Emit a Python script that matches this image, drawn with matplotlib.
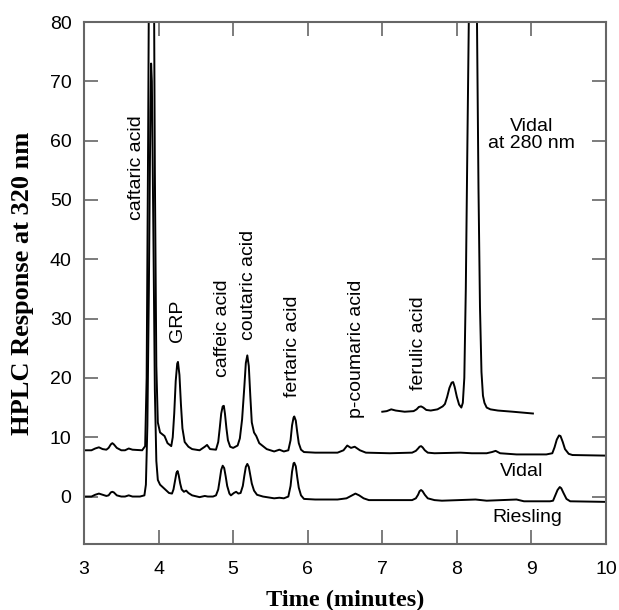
"""
HPLC chromatograms of Riesling and Vidal wines (320 nm),
with the Vidal trace at 280 nm shown as an inset segment.
"""
import matplotlib
matplotlib.use('Agg')
import matplotlib.pyplot as plt


###########  data  ###########

riesling_t = [3.00, 3.10, 3.15, 3.20, 3.25, 3.30, 3.33, 3.36, 3.38, 3.40, 3.44, 3.50,
              3.55, 3.60, 3.65, 3.75, 3.81, 3.83, 3.85, 3.87, 3.89, 3.90, 3.91, 3.93,
              3.95, 3.97, 3.99, 4.02, 4.08, 4.14, 4.18, 4.20, 4.22, 4.24, 4.255, 4.27,
              4.29, 4.31, 4.34, 4.37, 4.40, 4.45, 4.55, 4.62, 4.66, 4.73, 4.77, 4.80,
              4.82, 4.84, 4.86, 4.88, 4.90, 4.92, 4.95, 4.97, 5.01, 5.04, 5.07, 5.10,
              5.13, 5.15, 5.17, 5.19, 5.21, 5.23, 5.25, 5.28, 5.32, 5.40, 5.55, 5.62,
              5.68, 5.74, 5.77, 5.79, 5.81, 5.82, 5.84, 5.86, 5.88, 5.91, 5.95, 6.10,
              6.40, 6.52, 6.58, 6.64, 6.69, 6.75, 6.82, 7.10, 7.40, 7.45, 7.48, 7.50,
              7.52, 7.54, 7.57, 7.61, 7.70, 7.80, 8.25, 8.40, 8.80, 8.90, 9.25, 9.29,
              9.32, 9.35, 9.38, 9.40, 9.43, 9.47, 9.52, 10.0]
riesling_v = [0.0, 0.0, 0.3, 0.5, 0.3, 0.1, 0.2, 0.7, 0.8, 0.7, 0.2, 0.0,
              0.0, 0.2, 0.0, 0.0, 0.2, 2.0, 12.0, 35.0, 65.0, 73.0, 70.0, 45.0,
              18.0, 6.0, 2.8, 2.0, 1.3, 0.6, 0.5, 1.2, 2.6, 4.0, 4.3, 3.6,
              2.2, 1.2, 0.8, 1.0, 0.6, 0.2, -0.1, 0.1, 0.0, 0.0, 0.2, 1.2,
              2.8, 4.5, 5.2, 4.8, 3.4, 1.8, 0.5, 0.2, 0.6, 0.8, 0.5, 0.6,
              1.8, 3.5, 5.0, 5.5, 5.0, 3.6, 2.2, 1.0, 0.3, 0.0, -0.3, -0.2,
              -0.3, 0.0, 1.8, 4.2, 5.6, 5.7, 5.1, 3.2, 1.5, 0.2, -0.4, -0.5,
              -0.5, -0.3, 0.1, 0.5, 0.2, -0.3, -0.6, -0.6, -0.6, -0.3, 0.3, 0.9,
              1.1, 0.9, 0.3, -0.3, -0.6, -0.7, -0.5, -0.7, -0.5, -0.8, -0.8, -0.7,
              0.2, 1.1, 1.6, 1.4, 0.6, -0.4, -0.8, -0.9]

vidal_t = [3.00, 3.10, 3.15, 3.20, 3.25, 3.30, 3.33, 3.36, 3.38, 3.40, 3.44, 3.50,
           3.55, 3.60, 3.65, 3.78, 3.82, 3.84, 3.86, 3.88, 3.905, 3.93, 3.95, 3.97,
           3.99, 4.02, 4.08, 4.12, 4.17, 4.19, 4.21, 4.23, 4.25, 4.26, 4.28, 4.30,
           4.32, 4.35, 4.40, 4.45, 4.55, 4.62, 4.65, 4.69, 4.77, 4.80, 4.82, 4.84,
           4.86, 4.875, 4.89, 4.91, 4.93, 4.96, 5.00, 5.06, 5.09, 5.12, 5.15, 5.17,
           5.19, 5.21, 5.23, 5.25, 5.28, 5.31, 5.35, 5.45, 5.55, 5.62, 5.68, 5.74,
           5.77, 5.79, 5.81, 5.82, 5.84, 5.86, 5.88, 5.91, 5.95, 6.10, 6.40, 6.48,
           6.53, 6.58, 6.63, 6.70, 6.78, 7.10, 7.40, 7.45, 7.48, 7.50, 7.52, 7.54,
           7.57, 7.61, 7.70, 8.05, 8.20, 8.40, 8.47, 8.52, 8.58, 8.80, 9.20, 9.28,
           9.31, 9.34, 9.37, 9.39, 9.42, 9.45, 9.50, 9.55, 10.0]
vidal_v = [7.8, 7.8, 8.1, 8.3, 8.0, 7.9, 8.2, 8.8, 9.0, 8.8, 8.2, 7.8,
           7.8, 8.1, 7.9, 7.8, 8.5, 20.0, 60.0, 110.0, 150.0, 110.0, 55.0, 22.0,
           12.5, 10.8, 10.2, 9.0, 8.5, 10.0, 14.0, 19.5, 22.4, 22.7, 20.5, 15.5,
           11.5, 9.2, 8.4, 8.0, 7.8, 8.4, 8.7, 8.0, 7.9, 9.2, 11.5, 14.0,
           15.2, 15.3, 14.0, 11.5, 9.5, 8.4, 8.2, 8.6, 9.8, 13.0, 18.5, 22.5,
           23.8, 22.0, 17.0, 12.5, 10.8, 10.2, 9.0, 8.0, 7.6, 7.9, 7.6, 7.8,
           9.5, 12.0, 13.3, 13.5, 12.8, 10.8, 9.0, 7.9, 7.5, 7.4, 7.4, 7.8,
           8.6, 8.2, 8.4, 7.8, 7.4, 7.3, 7.4, 7.7, 8.1, 8.4, 8.5, 8.3,
           7.8, 7.4, 7.3, 7.4, 7.3, 7.3, 7.5, 7.7, 7.3, 7.1, 7.1, 7.3,
           8.3, 9.6, 10.3, 10.2, 9.2, 8.0, 7.2, 7.0, 6.9]

vidal280_t = [7.00, 7.06, 7.12, 7.18, 7.30, 7.42, 7.46, 7.49, 7.52, 7.55, 7.59, 7.65,
              7.74, 7.81, 7.84, 7.87, 7.90, 7.93, 7.95, 7.97, 8.00, 8.03, 8.06, 8.08,
              8.10, 8.12, 8.14, 8.16, 8.19, 8.22, 8.25, 8.27, 8.29, 8.31, 8.33, 8.35,
              8.37, 8.40, 8.45, 8.55, 8.75, 9.02]
vidal280_v = [14.3, 14.4, 14.7, 14.5, 14.3, 14.4, 14.7, 15.1, 15.2, 15.0, 14.6, 14.5,
              14.7, 15.2, 15.6, 16.8, 18.3, 19.2, 19.3, 18.5, 16.8, 15.5, 15.0, 15.8,
              20.0, 35.0, 58.0, 80.0, 115.0, 135.0, 115.0, 80.0, 52.0, 32.0, 21.0, 17.0,
              15.8, 15.0, 14.7, 14.5, 14.3, 14.0]

# peak labels: (text, time, response at the start of the text)
peak_names = ['caftaric acid', 'GRP', 'caffeic acid', 'coutaric acid',
              'fertaric acid', 'p-coumaric acid', 'ferulic acid']
peak_label_t = [3.70, 4.25, 4.86, 5.20, 5.80, 6.66, 7.48]
peak_label_v = [46.6, 26.1, 20.2, 26.4, 16.8, 13.3, 18.0]

#########################################################


SANS = 'Liberation Sans'
SERIF = 'Liberation Serif'
SPINE_COLOR = '#666666'
LABEL_SIZE = 14

fig = plt.figure(figsize=(6.19, 6.10), dpi=100)
ax = fig.add_axes([0.1357, 0.1082, 0.979 - 0.1357, 0.9639 - 0.1082])

for t, v in [(riesling_t, riesling_v), (vidal_t, vidal_v), (vidal280_t, vidal280_v)]:
    ax.plot(t, v, color='black', linewidth=1.4, solid_joinstyle='round')

for name, t, v in zip(peak_names, peak_label_t, peak_label_v):
    ax.text(t, v, name, rotation=90, ha='center', va='bottom',
            fontsize=LABEL_SIZE, family=SANS)

ax.text(9.0, 61, 'Vidal\nat 280 nm', ha='center', va='center',
        fontsize=LABEL_SIZE, family=SANS, linespacing=1.0)
ax.text(8.87, 4.2, 'Vidal', ha='center', va='center', fontsize=LABEL_SIZE, family=SANS)
ax.text(8.94, -3.5, 'Riesling', ha='center', va='center', fontsize=LABEL_SIZE, family=SANS)

# aesthetics
ax.set_xlim(3, 10)
ax.set_ylim(-8, 80)
ax.set_xticks(range(3, 11))
ax.set_yticks(range(0, 81, 10))
ax.tick_params(direction='in', length=10, width=1.2, color=SPINE_COLOR,
               top=True, right=True, labelsize=14, pad=9)
ax.tick_params(axis='x', pad=12)
for lab in ax.get_xticklabels() + ax.get_yticklabels():
    lab.set_family(SANS)
for sp in ax.spines.values():
    sp.set_color(SPINE_COLOR)
    sp.set_linewidth(1.5)

ax.set_xlabel('Time (minutes)', family=SERIF, fontweight='bold', fontsize=17.5, labelpad=9)
ax.set_ylabel('HPLC Response at 320 nm', family=SERIF, fontweight='bold', fontsize=19, labelpad=11)

plt.savefig('out.png', dpi=100)
plt.close()
